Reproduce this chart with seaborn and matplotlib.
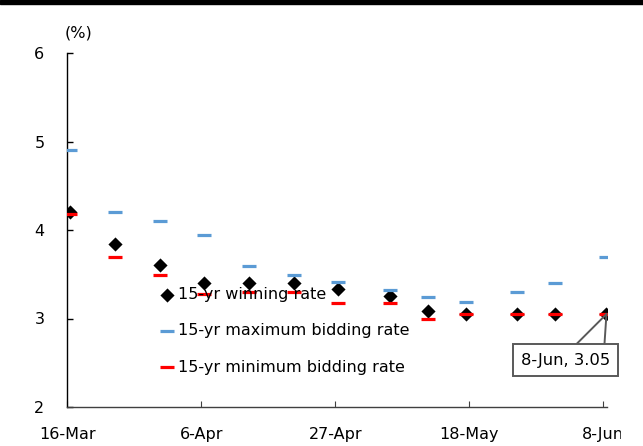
import matplotlib
matplotlib.use("Agg")
import matplotlib.pyplot as plt
import matplotlib.dates as mdates
from matplotlib.patches import Rectangle
import seaborn as sns
import pandas as pd
import numpy as np

# ---- data ----
dates = ["2020-03-16", "2020-03-23", "2020-03-30", "2020-04-06", "2020-04-13",
         "2020-04-20", "2020-04-27", "2020-05-05", "2020-05-11", "2020-05-17",
         "2020-05-25", "2020-05-31", "2020-06-08"]
winning_rate = [4.20, 3.84, 3.60, 3.40, 3.40, 3.40, 3.33, 3.25, 3.09, 3.05, 3.05, 3.05, 3.05]
max_bid_rate = [4.90, 4.20, 4.10, 3.94, 3.59, 3.49, 3.41, 3.32, 3.24, 3.19, 3.30, 3.40, 3.69]
min_bid_rate = [4.18, 3.70, 3.49, 3.28, 3.30, 3.30, 3.18, 3.17, 2.99, 3.05, 3.05, 3.05, 3.05]
series_labels = ["15-yr winning rate", "15-yr maximum bidding rate", "15-yr minimum bidding rate"]
y_ticks = [2, 3, 4, 5, 6]
unit_label = "(%)"

sns.set_style("white")
plt.rcParams["font.family"] = ["DejaVu Sans"]
plt.rcParams["text.color"] = "black"

df = pd.DataFrame({
    "date": pd.to_datetime(dates),
    "win": winning_rate,
    "max": max_bid_rate,
    "min": min_bid_rate,
})
# Excel-style date axis: points sit in the middle of their day
df["xpos"] = df["date"] + pd.Timedelta(hours=12)

fig = plt.figure(figsize=(6.43, 4.46), dpi=100)
ax = fig.add_axes([67.3 / 643, 39 / 446, (607 - 67.3) / 643, 354 / 446])

sns.scatterplot(data=df, x="xpos", y="win", marker="D", color="black", s=52,
                linewidth=0, ax=ax, label=series_labels[0], zorder=3)
sns.scatterplot(data=df, x="xpos", y="max", marker="_", color="#5B9BD5", s=100,
                linewidth=2.3, ax=ax, label=series_labels[1], zorder=3)
sns.scatterplot(data=df, x="xpos", y="min", marker="_", color="#FF0000", s=100,
                linewidth=2.3, ax=ax, label=series_labels[2], zorder=4)

start = df["date"].iloc[0]
end = df["date"].iloc[-1]
ax.set_xlim(start, end + pd.Timedelta(hours=14))
ax.set_ylim(y_ticks[0], y_ticks[-1])
ax.set_yticks(y_ticks)
ax.set_xticks(pd.date_range(start, end, freq="21D"))
ax.xaxis.set_major_formatter(mdates.DateFormatter("%-d-%b"))

ax.set_xlabel("")
ax.set_ylabel("")
for s in ["top", "right"]:
    ax.spines[s].set_visible(False)
ax.spines["left"].set_color("#000000")
ax.spines["left"].set_linewidth(1.0)
ax.spines["bottom"].set_color("#404040")
ax.spines["bottom"].set_linewidth(1.0)

ax.tick_params(axis="y", direction="in", length=4, width=1, color="#000000",
               pad=16.5, labelsize=11.5, left=True, labelcolor="black")
ax.tick_params(axis="x", direction="in", length=4, width=0.8, color="#404040",
               pad=14.5, labelsize=11.5, bottom=True, labelcolor="black")

ax.annotate(unit_label, xy=(0, 1), xycoords="axes fraction",
            xytext=(-3, 12), textcoords="offset pixels", ha="left", va="bottom",
            fontsize=11.5, color="black")

leg = ax.legend(loc="upper left", bbox_to_anchor=(0.1725, 0.338), frameon=False,
                fontsize=11.5, handlelength=0.8, handletextpad=0.28,
                labelspacing=1.32, borderpad=0, borderaxespad=0, labelcolor="black")
leg.set_zorder(5)

# callout for last winning rate
last_x = mdates.date2num(df["xpos"].iloc[-1])
last_y = df["win"].iloc[-1]
ann_text = f"{df['date'].iloc[-1].day}-{df['date'].iloc[-1]:%b}, {last_y:.2f}"
for dx in (-30, -2):
    ax.annotate("", xy=(last_x, last_y), xycoords="data",
                xytext=(dx, -30), textcoords="offset pixels",
                arrowprops=dict(arrowstyle="-", color="#595959", lw=1.4,
                                shrinkA=0, shrinkB=0), zorder=6)
ax.annotate(ann_text, xy=(last_x, last_y), xycoords="data",
            xytext=(-41, -46), textcoords="offset pixels", ha="center", va="center",
            fontsize=11.8, zorder=7, color="black",
            bbox=dict(boxstyle="square,pad=0.5", fc="white", ec="#595959", lw=1.4))

# top rule and right crop
fig.add_artist(Rectangle((621 / 643, 0), 1, 1 - 6 / 446, transform=fig.transFigure,
                         color="white", zorder=20))
fig.add_artist(Rectangle((0, 1 - 4 / 446), 1, 4 / 446, transform=fig.transFigure,
                         color="black", zorder=21))

fig.savefig("out.png", dpi=100)
